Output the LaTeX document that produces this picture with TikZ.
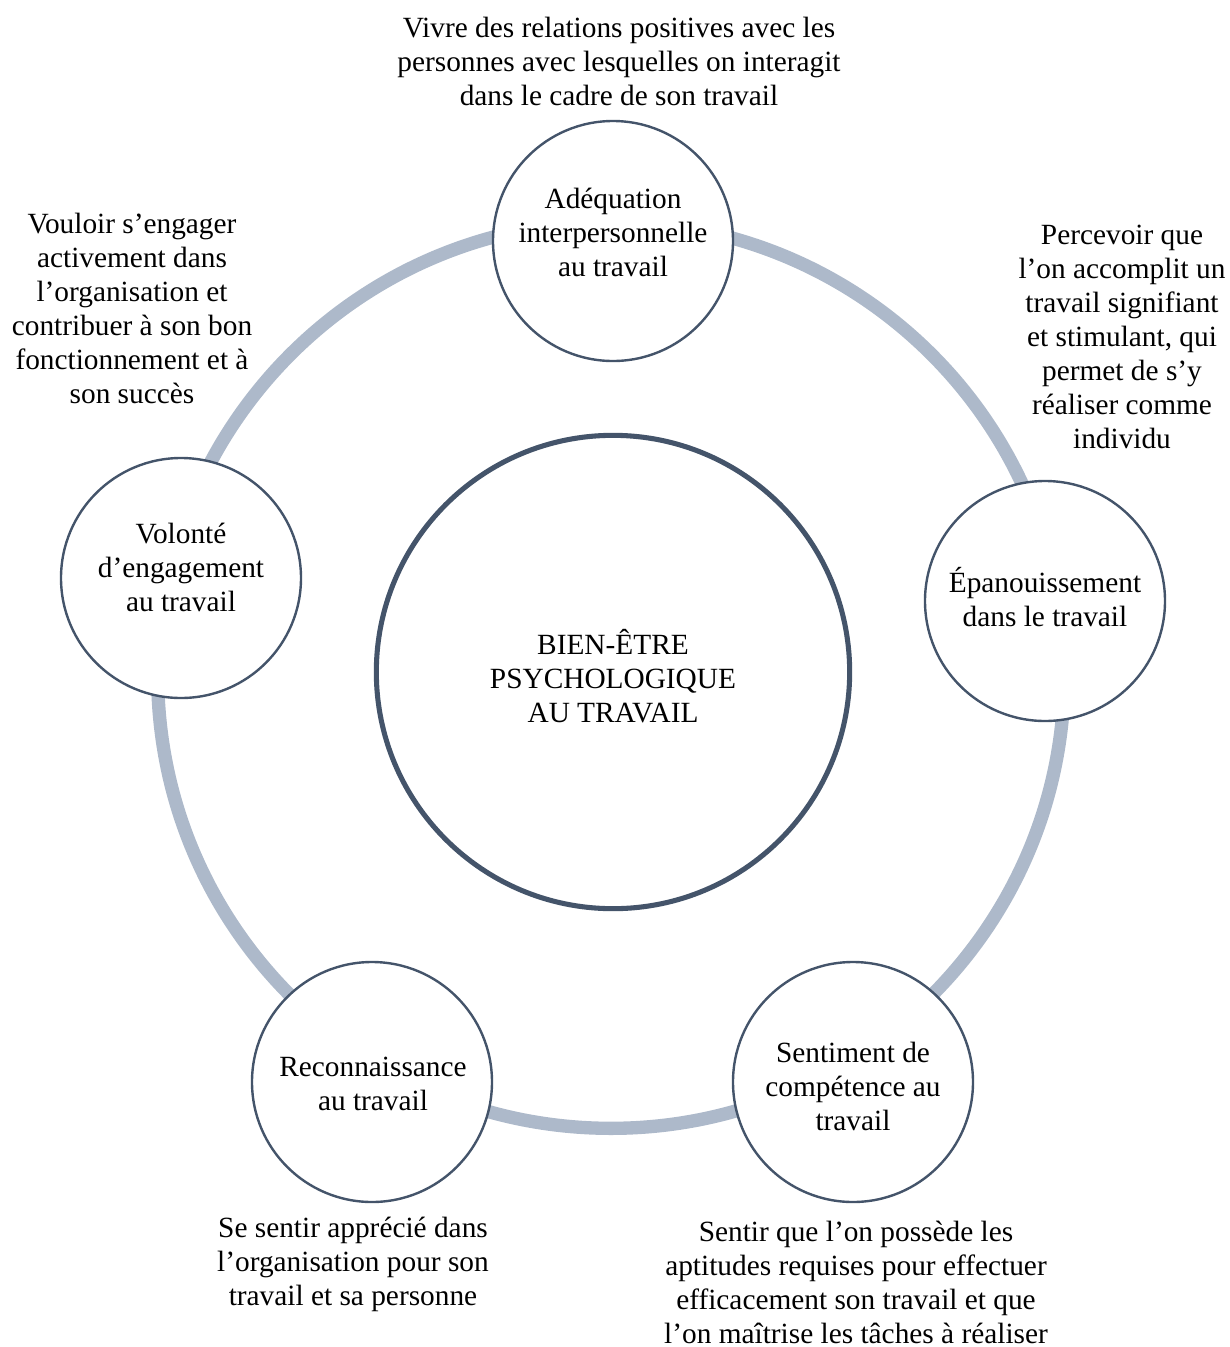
\documentclass[tikz,border=0pt]{standalone}
\usepackage{fontspec}
\setmainfont{Liberation Serif}
\definecolor{ringc}{HTML}{ADB9CA}
\definecolor{darkc}{HTML}{44546A}
\begin{document}
\begin{tikzpicture}[x=0.75pt,y=-0.75pt,
  txt/.style={align=center,font=\fontsize{22}{25.5}\selectfont,inner sep=0pt},
  small/.style={circle,draw=darkc,line width=1.8pt,fill=white,minimum size=180pt,inner sep=0pt},
  big/.style={circle,draw=darkc,line width=3.8pt,fill=white,minimum size=355pt,inner sep=0pt}]
\useasboundingbox (0,0) rectangle (1230,1347);
\coordinate (rc) at (611,675);
\draw[ringc,line width=10pt] (rc) circle[radius=340pt];
\node[big] (center) at (613,672) {};
\node[small] (top) at (613,241) {};
\node[small] (right) at (1045,601) {};
\node[small] (bright) at (853,1082) {};
\node[small] (bleft) at (372,1082) {};
\node[small] (left) at (181,578) {};
\node[txt] (center-t) at (613,676) {BIEN-ÊTRE\\PSYCHOLOGIQUE\\AU TRAVAIL};
\node[txt] (top-t) at (613,232) {Adéquation\\interpersonnelle\\au travail};
\node[txt] (right-t) at (1045,597) {Épanouissement\\dans le travail};
\node[txt] (bright-t) at (853,1086) {Sentiment de\\compétence au\\travail};
\node[txt] (bleft-t) at (373,1083.5) {Reconnaissance\\au travail};
\node[txt] (left-t) at (181,567) {Volonté\\d’engagement\\au travail};
\node[txt] (ttop) at (619,61) {Vivre des relations positives avec les\\personnes avec lesquelles on interagit\\dans le cadre de son travail};
\node[txt] (tright) at (1122,337) {Percevoir que\\l’on accomplit un\\travail signifiant\\et stimulant, qui\\permet de s’y\\réaliser comme\\individu};
\node[txt] (tleft) at (132,308.5) {Vouloir s’engager\\activement dans\\l’organisation et\\contribuer à son bon\\fonctionnement et à\\son succès};
\node[txt] (tbleft) at (353,1264) {Se sentir apprécié dans\\l’organisation pour son\\travail et sa personne};
\node[txt] (tbright) at (856,1282) {Sentir que l’on possède les\\aptitudes requises pour effectuer\\efficacement son travail et que\\l’on maîtrise les tâches à réaliser};
\end{tikzpicture}
\end{document}
